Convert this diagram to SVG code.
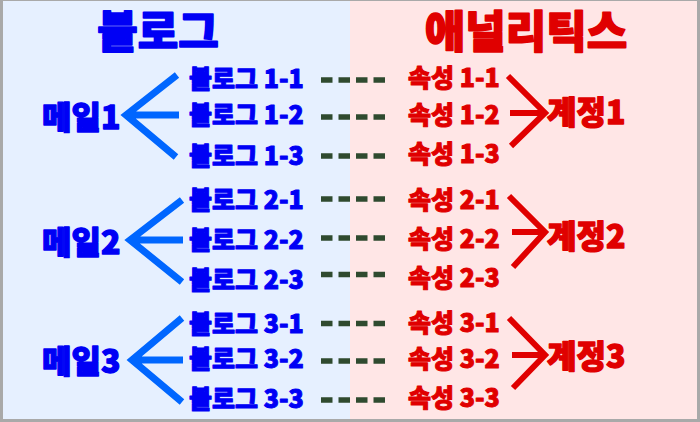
<svg xmlns="http://www.w3.org/2000/svg" width="700" height="422" viewBox="0 0 700 422">
<defs>
<style>
text{font-family:"Noto Sans CJK KR","Noto Sans",sans-serif;font-weight:900;stroke-linejoin:round}
.title{font-size:44px;stroke-width:1.6}
.item{font-size:25px;stroke-width:1}
.big{font-size:32px;stroke-width:1.3}
.blue{fill:#0000f5;stroke:#0000f5}
.red{fill:#e00000;stroke:#e00000}
.barrow{fill:none;stroke:#0066ff;stroke-width:7;stroke-linejoin:miter}
.rarrow{fill:none;stroke:#e00000;stroke-width:6;stroke-linejoin:miter}
.dash{stroke:#2f4a2f;stroke-width:5.5;stroke-dasharray:11.5 6}
</style>
</defs>
<rect x="0" y="0" width="700" height="422" fill="#a9a9a9"/>
<rect x="3" y="1" width="347" height="418" fill="#e6f0ff"/>
<rect x="350" y="1" width="347" height="418" fill="#ffe6e6"/>

<g id="title-blog"><text class="title blue" x="158" y="48" text-anchor="middle">블로그</text></g>
<g id="title-analytics"><text class="title red" x="526" y="48" text-anchor="middle">애널리틱스</text></g>

<g id="mail1"><text class="big blue" x="42" y="129">메일1</text></g>
<g id="mail2"><text class="big blue" x="42" y="254">메일2</text></g>
<g id="mail3"><text class="big blue" x="42" y="373">메일3</text></g>

<g id="blog1-1"><text class="item blue" x="189" y="88">블로그 1-1</text></g>
<g id="blog1-2"><text class="item blue" x="189" y="124">블로그 1-2</text></g>
<g id="blog1-3"><text class="item blue" x="189" y="165">블로그 1-3</text></g>
<g id="blog2-1"><text class="item blue" x="189" y="209">블로그 2-1</text></g>
<g id="blog2-2"><text class="item blue" x="189" y="249">블로그 2-2</text></g>
<g id="blog2-3"><text class="item blue" x="189" y="289">블로그 2-3</text></g>
<g id="blog3-1"><text class="item blue" x="189" y="333">블로그 3-1</text></g>
<g id="blog3-2"><text class="item blue" x="189" y="368">블로그 3-2</text></g>
<g id="blog3-3"><text class="item blue" x="189" y="408">블로그 3-3</text></g>

<g id="attr1-1"><text class="item red" x="408" y="87">속성 1-1</text></g>
<g id="attr1-2"><text class="item red" x="408" y="124">속성 1-2</text></g>
<g id="attr1-3"><text class="item red" x="408" y="163">속성 1-3</text></g>
<g id="attr2-1"><text class="item red" x="408" y="209">속성 2-1</text></g>
<g id="attr2-2"><text class="item red" x="408" y="248">속성 2-2</text></g>
<g id="attr2-3"><text class="item red" x="408" y="287">속성 2-3</text></g>
<g id="attr3-1"><text class="item red" x="408" y="332">속성 3-1</text></g>
<g id="attr3-2"><text class="item red" x="408" y="368">속성 3-2</text></g>
<g id="attr3-3"><text class="item red" x="408" y="407">속성 3-3</text></g>

<g id="account1"><text class="big red" x="547" y="124">계정1</text></g>
<g id="account2"><text class="big red" x="547" y="248">계정2</text></g>
<g id="account3"><text class="big red" x="547" y="368">계정3</text></g>

<g id="connectors">
<path class="barrow" d="M177,75 L126,115 L176,157 M126,115 H179"/>
<path class="barrow" d="M182,200 L130,240 L182,282 M130,240 H183"/>
<path class="barrow" d="M182,318 L132,360 L182,402 M132,360 H183"/>
<path class="rarrow" d="M508,76 L545,113 L511,146 M510,113 H545"/>
<path class="rarrow" d="M509,196 L545,232 L513,267 M512,232 H545"/>
<path class="rarrow" d="M509,318 L545,355 L513,388 M512,355 H545"/>
<line class="dash" x1="321" y1="80" x2="385" y2="80"/>
<line class="dash" x1="321" y1="117" x2="385" y2="117"/>
<line class="dash" x1="321" y1="156" x2="385" y2="156"/>
<line class="dash" x1="321" y1="199" x2="385" y2="199"/>
<line class="dash" x1="321" y1="238" x2="385" y2="238"/>
<line class="dash" x1="321" y1="274.5" x2="385" y2="274.5"/>
<line class="dash" x1="321" y1="323.5" x2="385" y2="323.5"/>
<line class="dash" x1="321" y1="361" x2="385" y2="361"/>
<line class="dash" x1="321" y1="400" x2="385" y2="400"/>
</g>
</svg>
